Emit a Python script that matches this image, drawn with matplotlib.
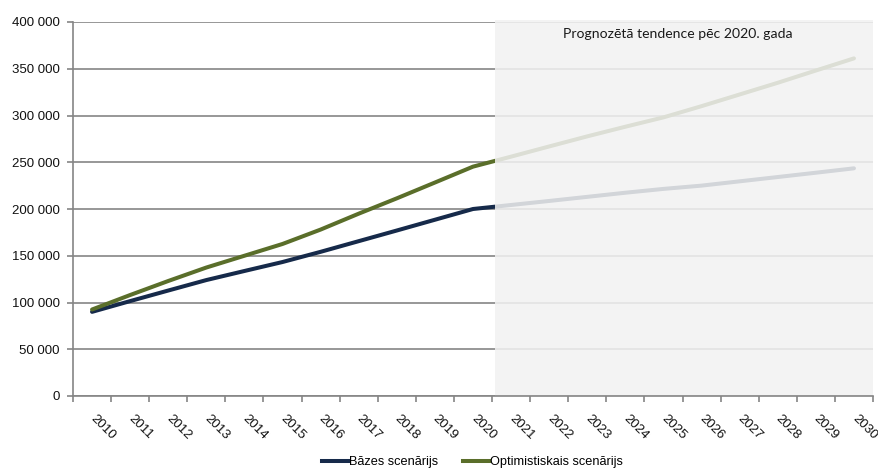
import matplotlib
matplotlib.use("Agg")
import matplotlib.pyplot as plt
from matplotlib.ticker import FuncFormatter, FixedLocator
from matplotlib.lines import Line2D

# Years on the category axis
years = list(range(2010, 2031))

# Population / volume scenarios
base_scenario = [90000, 101500, 112800, 124000, 133700, 143300, 154200, 165600,
                 177000, 188500, 200000, 204300, 208600, 213000, 217400, 221500,
                 225000, 229600, 234200, 238800, 243500]
optimistic_scenario = [92500, 108000, 123000, 137400, 150000, 162600, 178000, 195000,
                       211400, 228300, 245300, 256000, 266900, 277700, 288000, 298000,
                       310000, 322500, 335000, 348100, 361100]

series_names = ["Bāzes scenārijs", "Optimistiskais scenārijs"]
forecast_note = "Prognozētā tendence pēc 2020. gada"
forecast_start_year = 2020

y_ticks = [0, 50000, 100000, 150000, 200000, 250000, 300000, 350000, 400000]

NAVY = "#162a4a"
OLIVE = "#5a6e2a"
GRID = "#858585"

plt.rcParams["font.family"] = ["Liberation Sans", "DejaVu Sans"]

fig = plt.figure(figsize=(8.79, 4.68), dpi=100)
ax = fig.add_axes([73 / 879, 1 - 396 / 468, 800 / 879, 374 / 468])

x = list(range(len(years)))
ax.plot(x, base_scenario, color=NAVY, lw=2.9, solid_capstyle="round", zorder=2)
ax.plot(x, optimistic_scenario, color=OLIVE, lw=2.9, solid_capstyle="round", zorder=2)

ax.set_xlim(-0.5, len(years) - 0.5)
ax.set_ylim(0, 400000)

# Forecast period veil: translucent panel laid over the lines and grid
idx = years.index(forecast_start_year)
ax.axvspan(idx + 0.58, len(years) - 0.5, ymin=0, ymax=1.005, color="#f2f2f2",
           alpha=0.86, lw=0, zorder=3, clip_on=False)
ax.text(15.38, 387500, forecast_note,
        ha="center", va="center", fontsize=10.1, color="#1a1a1a",
        family=["Lato", "DejaVu Sans"], zorder=5)

# Axes styling
for side in ("top", "right"):
    ax.spines[side].set_visible(False)
for side in ("left", "bottom"):
    ax.spines[side].set_color(GRID)
    ax.spines[side].set_linewidth(1.2)
    ax.spines[side].set_zorder(4)

ax.set_yticks(y_ticks)
ax.yaxis.set_major_formatter(FuncFormatter(lambda v, p: f"{int(v):,}".replace(",", " ")))
ax.grid(axis="y", color=GRID, lw=1.2, zorder=1)
ax.set_axisbelow(True)
ax.tick_params(axis="y", direction="out", length=4, width=1.2, color=GRID,
               labelsize=9.5, pad=5.5, labelcolor="#111111")

ax.xaxis.set_major_locator(FixedLocator(x))
ax.set_xticklabels([str(y) for y in years])
ax.xaxis.set_minor_locator(FixedLocator([i - 0.5 for i in range(len(years) + 1)]))
ax.tick_params(axis="x", which="major", length=0, pad=15, labelsize=9.5,
               labelcolor="#111111")
ax.tick_params(axis="x", which="minor", direction="out", length=4, width=1.2, color=GRID)
for lab in ax.get_xticklabels():
    lab.set_rotation(-45)
    lab.set_rotation_mode("anchor")
    lab.set_ha("left")
    lab.set_va("center")

handles = [Line2D([], [], color=NAVY, lw=2.9), Line2D([], [], color=OLIVE, lw=2.9)]
fig.legend(handles, series_names, loc="center", bbox_to_anchor=(0.5375, 0.0125),
           ncol=2, frameon=False, fontsize=9.2, handlelength=2.0,
           handletextpad=0.1, columnspacing=1.95, borderaxespad=0, borderpad=0)

fig.savefig("out.png", dpi=100)
